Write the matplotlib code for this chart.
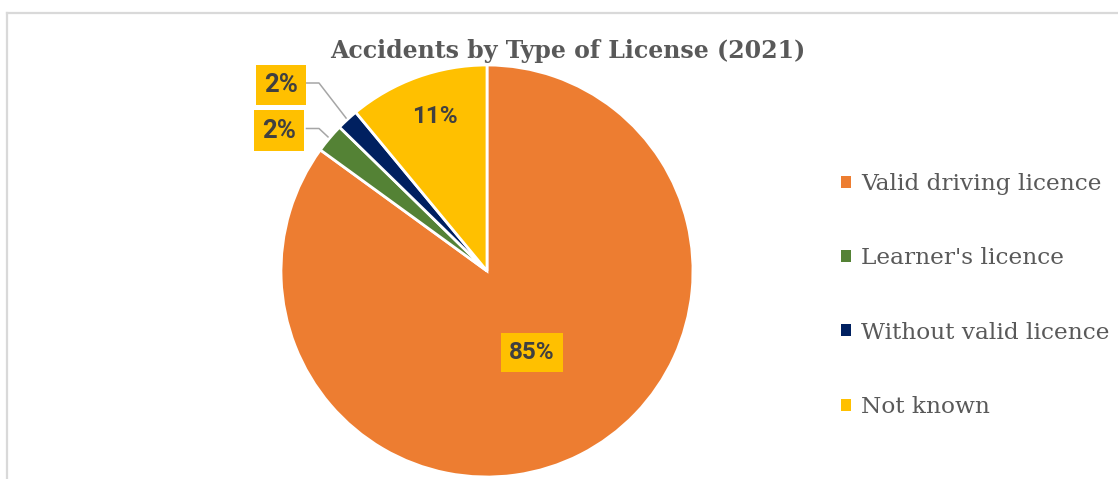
import matplotlib
matplotlib.use('Agg')
import matplotlib.pyplot as plt
from matplotlib.patches import Patch
import numpy as np

categories = ["Valid driving licence", "Learner's licence", "Without valid licence", "Not known"]
values = [85.0, 2.3, 1.7, 11.0]
pct_labels = ["85%", "2%", "2%", "11%"]
colors = ["#ED7D31", "#548235", "#002060", "#FFC000"]
title = "Accidents by Type of License (2021)"

W, H = 1118, 479
fig = plt.figure(figsize=(W / 100, H / 100), dpi=100)
ax = fig.add_axes([0, 0, 1, 1])
cx, cy, R = 487, H - 271, 206
wedges, _ = ax.pie(values, colors=colors, startangle=90, counterclock=False,
                   center=(cx, cy), radius=R,
                   wedgeprops=dict(edgecolor='white', linewidth=2.0))
ax.set_xlim(0, W)
ax.set_ylim(0, H)
ax.set_aspect('equal')
ax.axis('off')

renderer = fig.canvas.get_renderer()


def fit(t, target):
    w = t.get_window_extent(renderer).width
    t.set_fontsize(t.get_fontsize() * target / w)


# chart frame
ax.plot([7, W], [H - 13, H - 13], color='#D9D9D9', lw=1.6, clip_on=False)
ax.plot([7, 7], [H - 13, 0], color='#D9D9D9', lw=1.6, clip_on=False)

# title
tt = ax.text(568, H - 51, title, ha='center', va='center', fontsize=16,
             fontweight='heavy', family='DejaVu Serif', color='#595959')
fit(tt, 476)

label_color = '#404040'
box = dict(boxstyle='square,pad=0.32', facecolor='#FFC000', edgecolor='none')


def mid(w):
    return np.deg2rad((w.theta1 + w.theta2) / 2)


# inside labels
for i, frac in [(0, 0.45), (3, 0.79)]:
    a = mid(wedges[i])
    x, y = cx + frac * R * np.cos(a), cy + frac * R * np.sin(a)
    ax.text(x + 3, y + 1, pct_labels[i], ha='center', va='center', fontsize=17.5,
            fontweight='bold', family='Roboto', color=label_color,
            bbox=box)

# outside labels with leader lines
outside = {2: (281, 85), 1: (279, 130.5)}
for i, (lx, ly) in outside.items():
    a = mid(wedges[i])
    px, py = cx + (R + 2) * np.cos(a), cy + (R + 2) * np.sin(a)
    ax.plot([px, 319, 306.5], [py, H - ly + 2, H - ly + 2], color='#A6A6A6', lw=1.1)
    ax.text(lx, H - ly, pct_labels[i], ha='center', va='center', fontsize=18.5,
            fontweight='bold', family='Roboto', color=label_color, bbox=box)

# legend
tmp = ax.text(0, 0, "Without valid licence", fontsize=15, family='DejaVu Serif')
fit(tmp, 250)
fs = tmp.get_fontsize()
tmp.remove()
fs_px = fs * 100 / 72
handles = [Patch(facecolor=c, edgecolor='none') for c in colors]
leg = ax.legend(handles, categories, loc='center left',
                bbox_to_anchor=(841, H - 295.5), bbox_transform=ax.transData,
                frameon=False, borderpad=0, borderaxespad=0,
                handlelength=10 / fs_px, handleheight=10 / fs_px,
                handletextpad=10 / fs_px, labelspacing=2.25,
                prop=dict(family='DejaVu Serif', size=fs))
for t in leg.get_texts():
    t.set_color('#595959')

fig.savefig('out.png', dpi=100)
